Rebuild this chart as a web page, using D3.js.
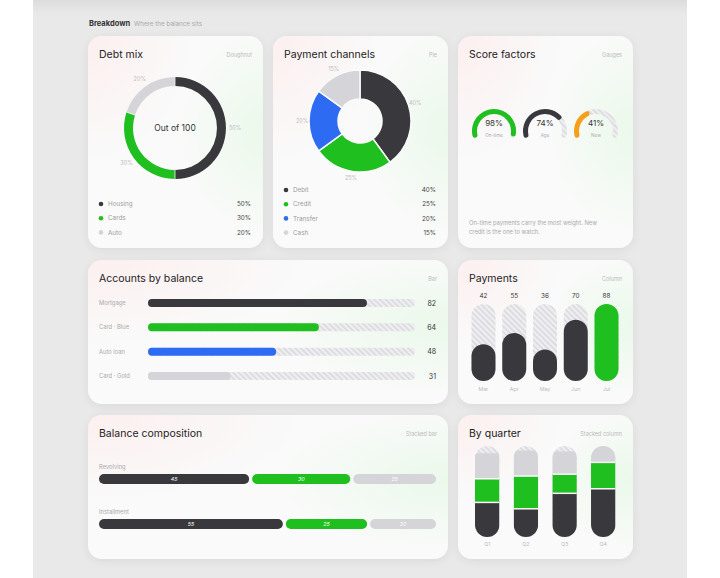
<!DOCTYPE html>
<html>
<head>
<meta charset="utf-8">
<script src="https://cdn.jsdelivr.net/npm/d3@7"></script>
<style>
  html, body { margin: 0; padding: 0; background: #fff; }
  svg { display: block; font-family: Inter, "Noto Sans", sans-serif; }
</style>
</head>
<body>
<div id="chart"></div>
<script>
// data
var debtCats = ["Housing", "Cards", "Auto"];
var debtVals = [50, 30, 20];

var channelCats = ["Debit", "Credit", "Transfer", "Cash"];
var channelVals = [40, 25, 20, 15];

var gaugeLabels = ["On-time", "Age", "New"];
var gaugeVals = [98, 74, 41];

var accountCats = ["Mortgage", "Card · Blue", "Auto loan", "Card · Gold"];
var accountVals = [82, 64, 48, 31];

var payMonths = ["Mar", "Apr", "May", "Jun", "Jul"];
var payVals = [42, 55, 36, 70, 88];

var compRows = ["Revolving", "Installment"];
var compRevolving = [45, 30, 25];
var compInstallment = [55, 25, 20];

var quarters = ["Q1", "Q2", "Q3", "Q4"];
var qBase = [38, 31, 48, 53];
var qMid = [26, 36, 21, 29];
var qTop = [28, 28, 25, 18];

var DARK = "#38383d", GREEN = "#1fbf1f", BLUE = "#2d6cf2", LIGHT = "#d5d5d9", ORANGE = "#f5a01a";

var svg = d3.select("#chart").append("svg")
  .attr("width", 720)
  .attr("height", 578);

var defs = svg.append("defs");

// hatched track
var hatch = defs.append("pattern")
  .attr("id", "hatch")
  .attr("patternUnits", "userSpaceOnUse")
  .attr("width", 4).attr("height", 4)
  .attr("patternTransform", "rotate(-45)");
hatch.append("rect").attr("width", 4).attr("height", 4).attr("fill", "#efeff1");
hatch.append("rect").attr("width", 2).attr("height", 4).attr("fill", "#dddde1");

var pink = defs.append("radialGradient").attr("id", "gPink")
  .attr("cx", 0).attr("cy", 0).attr("r", 0.6);
pink.append("stop").attr("offset", 0).attr("stop-color", "#ffe6e6").attr("stop-opacity", 0.55);
pink.append("stop").attr("offset", 1).attr("stop-color", "#ffe6e6").attr("stop-opacity", 0);

var green = defs.append("radialGradient").attr("id", "gGreen")
  .attr("cx", 1).attr("cy", 0.45).attr("r", 0.5);
green.append("stop").attr("offset", 0).attr("stop-color", "#e4f8e4").attr("stop-opacity", 0.7);
green.append("stop").attr("offset", 1).attr("stop-color", "#e4f8e4").attr("stop-opacity", 0);

var shadow = defs.append("filter").attr("id", "shadow")
  .attr("x", -0.2).attr("y", -0.2).attr("width", 1.4).attr("height", 1.4);
shadow.append("feDropShadow").attr("dx", 0).attr("dy", 2).attr("stdDeviation", 4)
  .attr("flood-color", "#000").attr("flood-opacity", 0.07);

var topShade = defs.append("linearGradient").attr("id", "gTop")
  .attr("x1", 0).attr("y1", 0).attr("x2", 0).attr("y2", 1);
topShade.append("stop").attr("offset", 0).attr("stop-color", "#dcdcdc");
topShade.append("stop").attr("offset", 1).attr("stop-color", "#e9e9e9");

// page container
svg.append("rect").attr("x", 33).attr("y", 0).attr("width", 654).attr("height", 578).attr("fill", "#e9e9e9");
svg.append("rect").attr("x", 33).attr("y", 0).attr("width", 654).attr("height", 14).attr("fill", "url(#gTop)");

svg.append("text").attr("x", 89).attr("y", 26)
  .attr("font-size", 7.5).attr("font-weight", 700).attr("fill", "#333")
  .text("Breakdown");
svg.append("text").attr("x", 134).attr("y", 26)
  .attr("font-size", 6.3).attr("fill", "#aaa")
  .text("Where the balance sits");

function card(x, y, w, h, title, kind) {
  var g = svg.append("g").attr("transform", `translate(${x},${y})`);
  g.append("rect").attr("width", w).attr("height", h).attr("rx", 14)
    .attr("fill", "#fafafa").attr("filter", "url(#shadow)");
  g.append("rect").attr("width", w).attr("height", h).attr("rx", 14).attr("fill", "url(#gPink)");
  g.append("rect").attr("width", w).attr("height", h).attr("rx", 14).attr("fill", "url(#gGreen)");
  g.append("text").attr("x", 11).attr("y", 22)
    .attr("font-size", 10.5).attr("fill", "#222").text(title);
  g.append("text").attr("x", w - 11).attr("y", 21).attr("text-anchor", "end")
    .attr("font-size", 5.5).attr("fill", "#bbb").text(kind);
  return g;
}

function legend(g, cats, vals, colors, y0, w) {
  var y = d3.scalePoint().domain(cats).range([y0, y0 + 14.2 * (cats.length - 1)]);
  var row = g.selectAll(".lg").data(cats).enter().append("g")
    .attr("transform", d => `translate(0,${y(d)})`);
  row.append("circle").attr("cx", 13).attr("cy", 0).attr("r", 2.3)
    .attr("fill", (d, i) => colors[i]);
  row.append("text").attr("x", 20).attr("y", 2.2).attr("font-size", 6.3).attr("fill", "#9a9a9a")
    .text(d => d);
  row.append("text").attr("x", w - 12).attr("y", 2.2).attr("text-anchor", "end")
    .attr("font-size", 6.3).attr("fill", "#444").text((d, i) => vals[i] + "%");
}

// ---- Debt mix
var c1 = card(88, 36, 175, 212, "Debt mix", "Doughnut");
var debtColors = [DARK, GREEN, LIGHT];
var pie = d3.pie().sort(null).value(d => d);
var debtArc = d3.arc().innerRadius(42).outerRadius(51).padAngle(0.012);
var labelArc = d3.arc().innerRadius(60).outerRadius(60);
var d1 = c1.append("g").attr("transform", "translate(87,92)");
d1.selectAll("path").data(pie(debtVals)).enter().append("path")
  .attr("d", debtArc).attr("fill", (d, i) => debtColors[i]);
d1.selectAll(".pl").data(pie(debtVals)).enter().append("text")
  .attr("transform", d => `translate(${labelArc.centroid(d)})`)
  .attr("text-anchor", "middle").attr("dy", "0.35em")
  .attr("font-size", 5.5).attr("fill", "#bbb").text(d => d.data + "%");
d1.append("text").attr("text-anchor", "middle").attr("dy", "0.35em")
  .attr("font-size", 8.5).attr("fill", "#333").text("Out of 100");
legend(c1, debtCats, debtVals, debtColors, 168, 175);

// ---- Payment channels
var c2 = card(273, 36, 175, 212, "Payment channels", "Pie");
var chColors = [DARK, GREEN, BLUE, LIGHT];
var chArc = d3.arc().innerRadius(22).outerRadius(51);
var chLabel = d3.arc().innerRadius(58).outerRadius(58);
var d2 = c2.append("g").attr("transform", "translate(87,85)");
d2.selectAll("path").data(pie(channelVals)).enter().append("path")
  .attr("d", chArc).attr("fill", (d, i) => chColors[i])
  .attr("stroke", "#fafafa").attr("stroke-width", 1.5);
d2.selectAll(".pl").data(pie(channelVals)).enter().append("text")
  .attr("transform", d => `translate(${chLabel.centroid(d)})`)
  .attr("text-anchor", "middle").attr("dy", "0.35em")
  .attr("font-size", 5.5).attr("fill", "#bbb").text(d => d.data + "%");
legend(c2, channelCats, channelVals, chColors, 154, 175);

// ---- Score factors
var c3 = card(458, 36, 175, 212, "Score factors", "Gauges");
var gColors = [GREEN, DARK, ORANGE];
var sweep = d3.scaleLinear().domain([0, 100]).range([-110 * Math.PI / 180, 110 * Math.PI / 180]);
var gx = d3.scalePoint().domain(gaugeLabels).range([36, 138]);
var gArc = d3.arc().innerRadius(17).outerRadius(22).cornerRadius(2.5);
gaugeLabels.forEach(function (lab, i) {
  var gg = c3.append("g").attr("transform", `translate(${gx(lab)},95)`);
  gg.append("path").attr("d", gArc({ startAngle: sweep(0), endAngle: sweep(100) }))
    .attr("fill", "url(#hatch)");
  gg.append("path").attr("d", gArc({ startAngle: sweep(0), endAngle: sweep(gaugeVals[i]) }))
    .attr("fill", gColors[i]);
  gg.append("text").attr("text-anchor", "middle").attr("y", -5)
    .attr("font-size", 8).attr("fill", "#333").text(gaugeVals[i] + "%");
  gg.append("text").attr("text-anchor", "middle").attr("y", 6)
    .attr("font-size", 4.6).attr("fill", "#aaa").text(lab);
});
c3.append("text").attr("x", 11).attr("y", 189).attr("font-size", 5.8).attr("fill", "#aaa")
  .text("On-time payments carry the most weight. New");
c3.append("text").attr("x", 11).attr("y", 198).attr("font-size", 5.8).attr("fill", "#aaa")
  .text("credit is the one to watch.");

// ---- Accounts by balance
var c4 = card(88, 260, 360, 144, "Accounts by balance", "Bar");
var accColors = [DARK, GREEN, BLUE, LIGHT];
var ax = d3.scaleLinear().domain([0, 100]).range([60, 327]);
var ay = d3.scalePoint().domain(accountCats).range([43, 116]);
var arow = c4.selectAll(".ar").data(accountCats).enter().append("g")
  .attr("transform", d => `translate(0,${ay(d)})`);
arow.append("text").attr("x", 11).attr("y", 2).attr("font-size", 5.8).attr("fill", "#aaa").text(d => d);
arow.append("rect").attr("x", ax(0)).attr("y", -4).attr("height", 8).attr("rx", 4)
  .attr("width", ax(100) - ax(0)).attr("fill", "url(#hatch)");
arow.append("rect").attr("x", ax(0)).attr("y", -4).attr("height", 8).attr("rx", 4)
  .attr("width", (d, i) => ax(accountVals[i]) - ax(0)).attr("fill", (d, i) => accColors[i]);
arow.append("text").attr("x", 348).attr("y", 2.5).attr("text-anchor", "end")
  .attr("font-size", 7).attr("fill", "#333").text((d, i) => accountVals[i]);

// ---- Payments
var c5 = card(458, 260, 175, 144, "Payments", "Column");
var px = d3.scaleBand().domain(payMonths).range([13.5, 160.5]).paddingInner(0.22);
var py = d3.scaleLinear().domain([0, d3.max(payVals)]).range([121, 44]);
var pcol = c5.selectAll(".pc").data(payMonths).enter().append("g");
pcol.append("rect").attr("x", d => px(d)).attr("y", py.range()[1])
  .attr("width", px.bandwidth()).attr("height", py(0) - py.range()[1])
  .attr("rx", px.bandwidth() / 2).attr("fill", "url(#hatch)");
pcol.append("rect").attr("x", d => px(d)).attr("y", (d, i) => py(payVals[i]))
  .attr("width", px.bandwidth()).attr("height", (d, i) => py(0) - py(payVals[i]))
  .attr("rx", px.bandwidth() / 2)
  .attr("fill", (d, i) => i === payVals.length - 1 ? GREEN : DARK);
pcol.append("text").attr("x", d => px(d) + px.bandwidth() / 2).attr("y", 37.5)
  .attr("text-anchor", "middle").attr("font-size", 6.3).attr("fill", "#333")
  .text((d, i) => payVals[i]);
pcol.append("text").attr("x", d => px(d) + px.bandwidth() / 2).attr("y", 131)
  .attr("text-anchor", "middle").attr("font-size", 5.3).attr("fill", "#bbb").text(d => d);

// ---- Balance composition
var c6 = card(88, 415, 360, 144, "Balance composition", "Stacked bar");
var compColors = [DARK, GREEN, LIGHT];
var bx = d3.scaleLinear().domain([0, 100]).range([11, 348]);
var by = d3.scalePoint().domain(compRows).range([64, 109]);
[compRevolving, compInstallment].forEach(function (vals, r) {
  var row = c6.append("g").attr("transform", `translate(0,${by(compRows[r])})`);
  row.append("text").attr("x", 11).attr("y", -10).attr("font-size", 5.8).attr("fill", "#aaa")
    .text(compRows[r]);
  var cum = 0;
  vals.forEach(function (v, i) {
    var x0 = bx(cum) + (i > 0 ? 1.5 : 0);
    var x1 = bx(cum + v) - (i < vals.length - 1 ? 1.5 : 0);
    row.append("rect").attr("x", x0).attr("y", -5).attr("width", x1 - x0).attr("height", 10)
      .attr("rx", 5).attr("fill", compColors[i]);
    row.append("text").attr("x", (x0 + x1) / 2).attr("y", 2)
      .attr("text-anchor", "middle").attr("font-size", 5.3).attr("font-style", "italic")
      .attr("fill", "#fff").text(v);
    cum += v;
  });
});

// ---- By quarter
var c7 = card(458, 415, 175, 144, "By quarter", "Stacked column");
var qColors = [DARK, GREEN, LIGHT];
var qx = d3.scaleBand().domain(quarters).range([17, 157.5]).paddingInner(0.367);
var totals = quarters.map((q, i) => qBase[i] + qMid[i] + qTop[i]);
var qy = d3.scaleLinear().domain([0, d3.max(totals)]).range([122, 31]);
var stack = d3.stack().keys([0, 1, 2]).value((d, k) => d[k]);
var qRows = quarters.map((q, i) => [qBase[i], qMid[i], qTop[i]]);
var series = stack(qRows);
quarters.forEach(function (q, i) {
  defs.append("clipPath").attr("id", "qc" + i).append("rect")
    .attr("x", qx(q)).attr("y", qy.range()[1]).attr("width", qx.bandwidth())
    .attr("height", qy(0) - qy.range()[1]).attr("rx", qx.bandwidth() / 2);
});
var qg = c7.selectAll(".qg").data(quarters).enter().append("g")
  .attr("clip-path", (d, i) => `url(#qc${i})`);
qg.append("rect").attr("x", d => qx(d)).attr("y", qy.range()[1])
  .attr("width", qx.bandwidth()).attr("height", qy(0) - qy.range()[1]).attr("fill", "url(#hatch)");
series.forEach(function (s, k) {
  qg.append("rect").attr("x", d => qx(d)).attr("width", qx.bandwidth())
    .attr("y", (d, i) => qy(s[i][1])).attr("height", (d, i) => qy(s[i][0]) - qy(s[i][1]))
    .attr("fill", qColors[k]);
});
series.slice(0, 2).forEach(function (s) {
  qg.append("rect").attr("x", d => qx(d)).attr("width", qx.bandwidth())
    .attr("y", (d, i) => qy(s[i][1]) - 0.75).attr("height", 1.5).attr("fill", "#fafafa");
});
c7.selectAll(".ql").data(quarters).enter().append("text")
  .attr("x", d => qx(d) + qx.bandwidth() / 2).attr("y", 131)
  .attr("text-anchor", "middle").attr("font-size", 5.3).attr("fill", "#bbb").text(d => d);
</script>
</body>
</html>
